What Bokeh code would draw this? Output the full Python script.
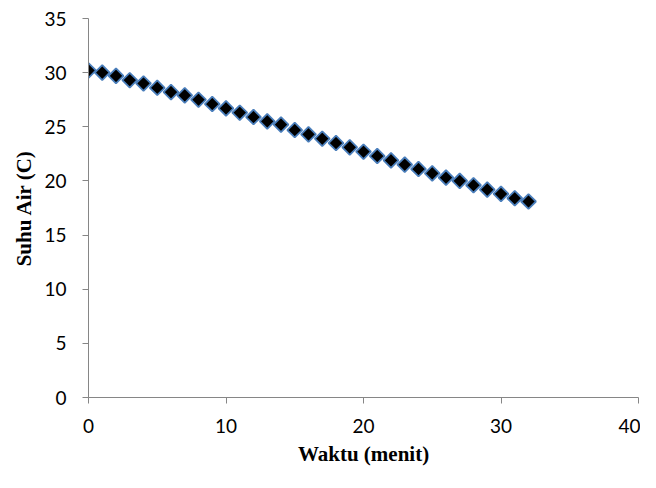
import numpy as np
from bokeh.plotting import figure
from bokeh.models import Range1d, FixedTicker
from bokeh.embed import file_html
from bokeh.resources import INLINE

waktu = list(range(0, 33))
suhu = [30.2, 30.0, 29.7, 29.3, 29.0, 28.6, 28.2, 27.9, 27.5, 27.1, 26.7,
        26.3, 25.9, 25.5, 25.2, 24.7, 24.3, 23.9, 23.5, 23.1, 22.7, 22.3,
        21.9, 21.5, 21.1, 20.7, 20.3, 20.0, 19.6, 19.2, 18.8, 18.4, 18.1]
x_ticks = [0, 10, 20, 30, 40]
y_ticks = [0, 5, 10, 15, 20, 25, 30, 35]

p = figure(width=640, height=472, output_backend="svg", toolbar_location=None,
           x_range=Range1d(0, 40), y_range=Range1d(0, 35),
           min_border_left=88, min_border_right=2, min_border_top=18,
           min_border_bottom=75)
p.outline_line_color = None
p.xgrid.visible = False
p.ygrid.visible = False

p.scatter(waktu, suhu, marker="square", angle=np.pi / 4, size=10.5,
          fill_color="black", line_color="#4a7ebb", line_width=1.8)

for ax, ticks in ((p.xaxis, x_ticks), (p.yaxis, y_ticks)):
    ax.ticker = FixedTicker(ticks=ticks)
    ax.axis_line_color = "#868686"
    ax.major_tick_line_color = "#868686"
    ax.major_tick_out = 6
    ax.major_tick_in = 0
    ax.minor_tick_line_color = None
    ax.major_label_text_font = "Lato"
    ax.major_label_text_font_size = "19px"
    ax.major_label_text_color = "black"
    ax.axis_label_text_font = "Liberation Serif"
    ax.axis_label_text_font_style = "bold"
    ax.axis_label_text_font_size = "21px"
    ax.axis_label_text_color = "black"

p.xaxis.axis_label = "Waktu (menit)"
p.yaxis.axis_label = "Suhu Air (C)"
p.xaxis.major_label_standoff = 15
p.yaxis.major_label_standoff = 16
p.xaxis.axis_label_standoff = 6
p.yaxis.axis_label_standoff = 5

open("out.html", "w").write(file_html(p, INLINE))
